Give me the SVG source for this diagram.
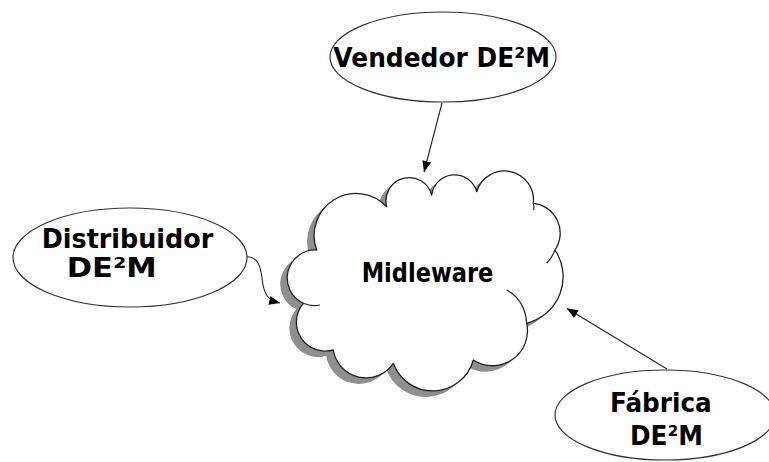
<svg xmlns="http://www.w3.org/2000/svg" width="769" height="462" viewBox="0 0 769 462">
<style>
.node-shape{fill:#fff;stroke:#333;stroke-width:1.2}
.lbl{font-family:"DejaVu Sans","Liberation Sans",sans-serif;font-weight:bold;font-size:27px;fill:#000}
.conn{fill:none;stroke:#222;stroke-width:1.1}
.cloud{fill:#fff;stroke:#222;stroke-width:1.3;stroke-linejoin:round}
.shadow{fill:#8f8f8f}
.fold{fill:none;stroke:#222;stroke-width:1.2}
</style>
<defs>
<marker id="arr" markerUnits="userSpaceOnUse" markerWidth="12" markerHeight="10" refX="11" refY="4.5" orient="auto">
<path d="M0,0 L11,4.5 L0,9 z" fill="#000"/>
</marker>
<path id="cloudPath" d="M316.7,250 A42,42 0 0 1 386.7,206.7 A23,23 0 0 1 431.7,195 A23,23 0 0 1 476.7,191.7 A29,29 0 0 1 533.3,203.3 A30,30 0 0 1 555,250 A48,48 0 0 1 526.7,323.3 A35,35 0 0 1 473.3,360 A42,42 0 0 1 393.3,363.3 A33,33 0 0 1 333.3,350 A29,29 0 0 1 303.3,303.3 A28,28 0 0 1 316.7,250 Z"/>
</defs>
<rect width="769" height="462" fill="#fff"/>
<g id="connectors">
<path class="conn" d="M442,103 L424,172" marker-end="url(#arr)"/>
<path class="conn" d="M246.7,256.7 C256,257 260,262 262,278 C264,296 268,300 280,303" marker-end="url(#arr)"/>
<path class="conn" d="M667,369 L567,308.5" marker-end="url(#arr)"/>
</g>
<g id="midleware">
<use href="#cloudPath" class="shadow" transform="translate(-7,6)"/>
<use href="#cloudPath" class="cloud"/>
<path class="fold" d="M506.7,290 Q525,300 526.7,323.3"/>
<path class="fold" d="M303.3,303.3 Q312,307 320,305"/>
<path class="fold" d="M555,250 Q552,258 546.7,263"/>
<path class="fold" d="M533.3,203.3 Q534.5,207 533.5,210"/>
<text class="lbl" x="361.7" y="281.7" textLength="131.6" lengthAdjust="spacingAndGlyphs">Midleware</text>
</g>
<g id="vendedor">
<ellipse class="node-shape" cx="443" cy="57" rx="113" ry="45"/>
<text class="lbl" x="333.3" y="67" textLength="216.7" lengthAdjust="spacingAndGlyphs">Vendedor DE²M</text>
</g>
<g id="distribuidor">
<ellipse class="node-shape" cx="130" cy="257.5" rx="117" ry="49.5"/>
<text class="lbl" x="41.7" y="248.3" textLength="171.6" lengthAdjust="spacingAndGlyphs">Distribuidor</text>
<text class="lbl" x="66.7" y="277" textLength="90" lengthAdjust="spacingAndGlyphs">DE²M</text>
</g>
<g id="fabrica">
<ellipse class="node-shape" cx="665" cy="415" rx="110" ry="45"/>
<text class="lbl" x="610" y="412" textLength="101.7" lengthAdjust="spacingAndGlyphs">Fábrica</text>
<text class="lbl" x="630" y="445" textLength="73" lengthAdjust="spacingAndGlyphs">DE²M</text>
</g>
</svg>
